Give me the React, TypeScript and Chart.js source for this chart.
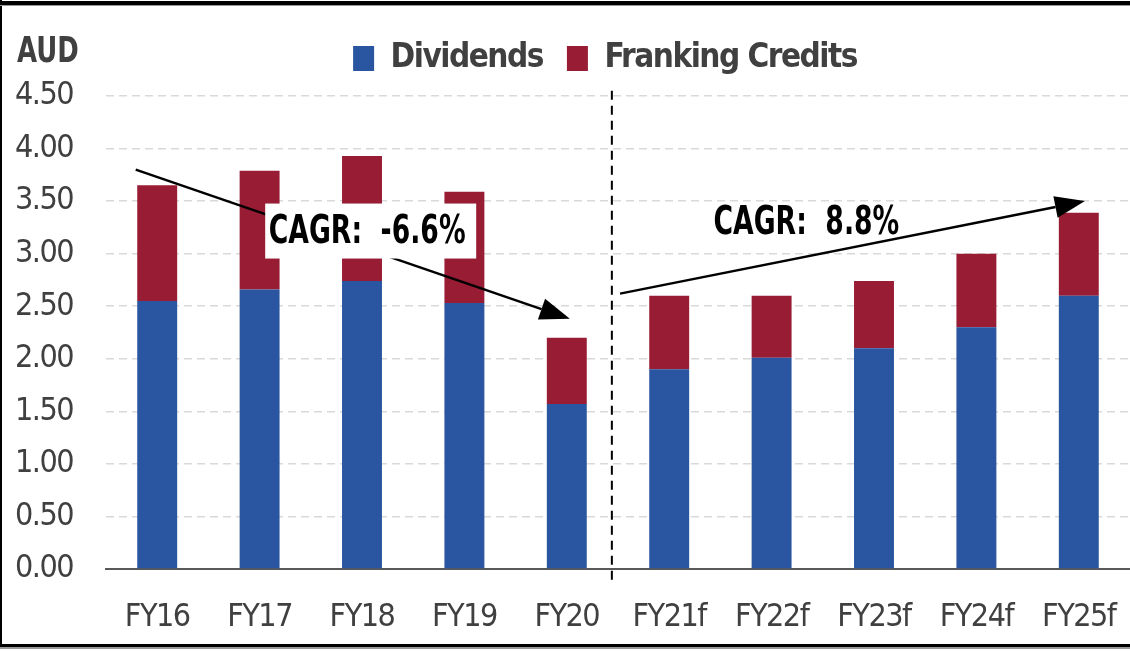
import React, { useEffect, useRef } from "react";
import { Chart, registerables } from "chart.js";

Chart.register(...registerables);

const categories = ["FY16", "FY17", "FY18", "FY19", "FY20", "FY21f", "FY22f", "FY23f", "FY24f", "FY25f"];
const dividends = [2.55, 2.66, 2.74, 2.53, 1.57, 1.90, 2.01, 2.10, 2.30, 2.60];
const frankingCredits = [1.10, 1.13, 1.19, 1.06, 0.63, 0.70, 0.59, 0.64, 0.70, 0.79];
const yMin = 0;
const yMax = 4.5;
const yStep = 0.5;
const cagrLabels = ["CAGR:  -6.6%", "CAGR:  8.8%"];

const FONT = '"DejaVu Sans Condensed", "DejaVu Sans", sans-serif';

function arrow(ctx: CanvasRenderingContext2D, x1: number, y1: number, x2: number, y2: number) {
  const ang = Math.atan2(y2 - y1, x2 - x1);
  const len = 30;
  const hw = 11;
  const bx = x2 - len * Math.cos(ang);
  const by = y2 - len * Math.sin(ang);
  ctx.save();
  ctx.strokeStyle = "#000";
  ctx.lineWidth = 2.5;
  ctx.beginPath();
  ctx.moveTo(x1, y1);
  ctx.lineTo(bx, by);
  ctx.stroke();
  ctx.fillStyle = "#000";
  ctx.beginPath();
  ctx.moveTo(x2, y2);
  ctx.lineTo(bx + hw * Math.sin(ang), by - hw * Math.cos(ang));
  ctx.lineTo(bx - hw * Math.sin(ang), by + hw * Math.cos(ang));
  ctx.closePath();
  ctx.fill();
  ctx.restore();
}

function condensedText(ctx: CanvasRenderingContext2D, text: string, x: number, y: number, sx: number) {
  ctx.save();
  ctx.translate(x, y);
  ctx.scale(sx, 1);
  ctx.fillText(text, 0, 0);
  ctx.restore();
}

const spacing = {
  id: "spacing",
  beforeUpdate(chart: any) {
    (chart.ctx as any).letterSpacing = "-1.5px";
  },
  afterLayout(chart: any) {
    if (chart.legend) chart.legend.left = 74;
  },
  beforeDraw(chart: any) {
    (chart.ctx as any).letterSpacing = "-1.5px";
  },
};

const annotations = {
  id: "annotations",
  afterDatasetsDraw(chart: any) {
    const ctx = chart.ctx as CanvasRenderingContext2D;
    const xs = chart.scales.x;
    const ys = chart.scales.y;
    const X = (i: number) => xs.getPixelForValue(i);
    const Y = (v: number) => ys.getPixelForValue(v);
    ctx.save();
    ctx.strokeStyle = "#000";
    ctx.lineWidth = 2;
    ctx.setLineDash([9, 6]);
    ctx.beginPath();
    ctx.moveTo(X(4.44), Y(4.55));
    ctx.lineTo(X(4.44), Y(-0.15));
    ctx.stroke();
    ctx.restore();
    arrow(ctx, X(-0.21), Y(3.8), X(4.03), Y(2.38));
    arrow(ctx, X(4.52), Y(2.62), X(9.06), Y(3.5));
    ctx.save();
    (ctx as any).letterSpacing = "0px";
    ctx.font = `bold 39px ${FONT}`;
    ctx.textAlign = "center";
    ctx.textBaseline = "middle";
    const c1x = X(2.08), c1y = Y(3.22);
    ctx.fillStyle = "#fff";
    ctx.fillRect(c1x - 105, c1y - 27, 211, 55);
    ctx.fillStyle = "#000";
    condensedText(ctx, cagrLabels[0], c1x - 3, c1y + 2, 0.76);
    condensedText(ctx, cagrLabels[1], X(6.34), Y(3.3) + 2, 0.76);
    ctx.restore();
  },
  afterDraw(chart: any) {
    const ctx = chart.ctx as CanvasRenderingContext2D;
    ctx.save();
    (ctx as any).letterSpacing = "0px";
    ctx.fillStyle = "#404040";
    ctx.font = `bold 36px ${FONT}`;
    ctx.textAlign = "left";
    ctx.textBaseline = "alphabetic";
    condensedText(ctx, "AUD", 17, 62, 0.8);
    ctx.fillStyle = "#000";
    ctx.fillRect(0, 1, 1130, 4);
    ctx.fillRect(0, 0, 2, 648);
    ctx.fillRect(0, 644, 1130, 3);
    ctx.fillStyle = "#999";
    ctx.fillRect(0, 5, 1130, 1);
    ctx.fillRect(0, 647, 1130, 2);
    ctx.restore();
  },
};

export default function App() {
  const ref = useRef<HTMLCanvasElement>(null);
  useEffect(() => {
    if (!ref.current) return;
    const chart = new Chart(ref.current, {
      type: "bar",
      data: {
        labels: categories,
        datasets: [
          { label: "Dividends", data: dividends, backgroundColor: "#2A55A0", stack: "s", barPercentage: 0.39, categoryPercentage: 1 },
          { label: "Franking Credits", data: frankingCredits, backgroundColor: "#971C34", stack: "s", barPercentage: 0.39, categoryPercentage: 1 },
        ],
      },
      options: {
        animation: false,
        responsive: false,
        devicePixelRatio: 1,
        layout: { padding: { left: 0, right: -6, top: 18, bottom: 0 } },
        plugins: {
          legend: {
            position: "top",
            align: "center",
            labels: {
              boxWidth: 21,
              boxHeight: 25,
              padding: 24,
              color: "#404040",
              font: { family: FONT, size: 33, weight: "bold" },
            },
          },
          title: {
            display: true,
            text: " ",
            weight: 500,
            position: "top",
            font: { size: 10, lineHeight: 1 },
            padding: { top: 0, bottom: 1 },
          } as any,
          tooltip: { enabled: false },
        },
        scales: {
          x: {
            stacked: true,
            grid: { display: true, drawOnChartArea: false, drawTicks: true, tickLength: 29, color: "rgba(0,0,0,0)" },
            border: { display: true, color: "#595959", width: 2 },
            ticks: { color: "#404040", padding: 0, font: { family: FONT, size: 32 } },
            afterFit: (s: any) => { s.height = 83; },
          },
          y: {
            stacked: true,
            min: yMin,
            max: yMax,
            border: { display: false, dash: [8, 5] },
            grid: {
              color: (c: any) => (c.tick && c.tick.value === 0 ? "rgba(0,0,0,0)" : "#D9D9D9"),
              lineWidth: 1.5,
              drawTicks: false,
            },
            ticks: {
              stepSize: yStep,
              color: "#404040",
              padding: 33,
              font: { family: FONT, size: 32 },
              callback: (v: any) => Number(v).toFixed(2),
            },
            afterFit: (s: any) => { s.width = 106; },
          },
        },
      },
      plugins: [spacing, annotations],
    });
    return () => chart.destroy();
  }, []);
  return (
    <div style={{ position: "absolute", left: 0, top: 0, width: 1130, height: 652, background: "#fff" }}>
      <canvas ref={ref} width={1130} height={652} />
    </div>
  );
}
